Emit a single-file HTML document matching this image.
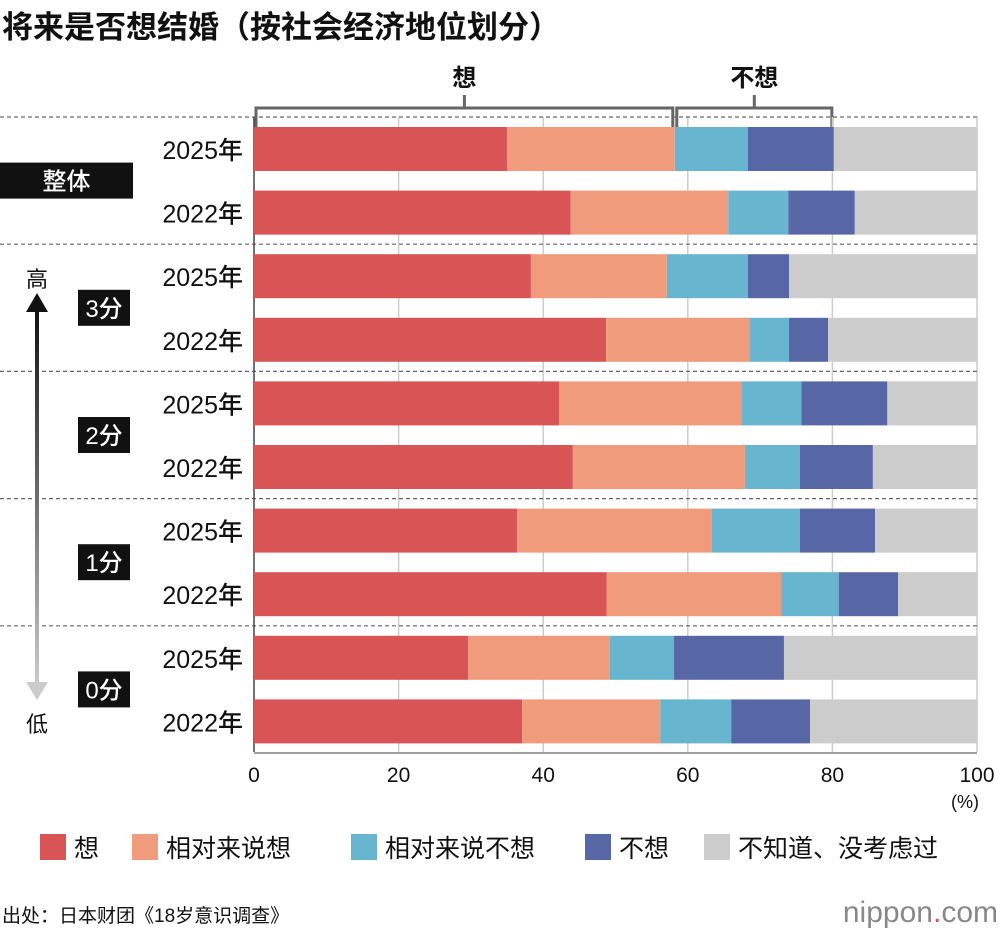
<!DOCTYPE html>
<html><head><meta charset="utf-8"><style>
body{margin:0;background:#fff;font-family:"Liberation Sans","Noto Sans CJK SC",sans-serif;}
svg text{font-family:"Liberation Sans","Noto Sans CJK SC",sans-serif;}
</style></head><body>
<svg id="chart" width="1000" height="936" xmlns="http://www.w3.org/2000/svg">
<text x="2" y="38" font-size="31" font-weight="bold" fill="#111">将来是否想结婚（按社会经济地位划分）</text>
<g id="topg"></g>
<g id="grid"></g>
<g id="bars"></g>
<g id="labels"></g>
<defs><linearGradient id="ag" x1="0" y1="0" x2="0" y2="1"><stop offset="0" stop-color="#111"/><stop offset="1" stop-color="#ccc"/></linearGradient></defs>
<g>
<text x="37" y="287" font-size="22" text-anchor="middle" fill="#111">高</text>
<rect x="35" y="310" width="4" height="375" fill="url(#ag)"/>
<polygon points="26,312 48,312 37,293" fill="#111"/>
<polygon points="26,682 48,682 37,700" fill="#ccc"/>
<text x="37" y="732" font-size="22" text-anchor="middle" fill="#111">低</text>
</g>
<text x="965" y="808" font-size="18" text-anchor="middle" fill="#111">(%)</text>
<g id="legend"></g>
<text x="2" y="922" font-size="19" fill="#111">出处：日本财团《18岁意识调查》</text>
<text x="998" y="922" font-size="30" text-anchor="end" fill="#888">nippon<tspan fill="#d9534f">.</tspan>com</text>
</svg>
<script>
const rowYears=["2025年","2022年","2025年","2022年","2025年","2022年","2025年","2022年","2025年","2022年"];
const groups=["整体","3分","2分","1分","0分"];
const seriesNames=["想","相对来说想","相对来说不想","不想","不知道、没考虑过"];
const want=[35.0,43.8,38.3,48.7,42.2,44.1,36.4,48.8,29.6,37.1];
const ratherWant=[23.2,21.8,18.8,19.8,25.2,23.8,26.9,24.1,19.6,19.1];
const ratherNot=[10.1,8.3,11.2,5.5,8.3,7.6,12.2,8.0,8.9,9.8];
const notWant=[11.9,9.2,5.7,5.4,11.9,10.1,10.4,8.2,15.2,10.9];
const unknown=[19.8,16.9,26.0,20.6,12.4,14.4,14.1,10.9,26.7,23.1];
const xTicks=[0,20,40,60,80,100];
const colors=["#d95455","#f09b7b","#67b5cf","#5767a6","#cccccc"];
const NS="http://www.w3.org/2000/svg";
const X0=254,X1=977;
const x=v=>X0+(X1-X0)*v/100;
const rowY=i=>127+i*63.6;
const BH=44;
function mk(t,a,p){const e=document.createElementNS(NS,t);for(const k in a)e.setAttribute(k,a[k]);p.appendChild(e);return e;}
const grid=document.getElementById('grid'),bars=document.getElementById('bars'),labels=document.getElementById('labels');
xTicks.forEach(t=>{
 if(t>0){const l=mk('line',{x1:x(t),x2:x(t),y1:117,y2:752,stroke:'#ccc','stroke-width':1.5},grid);
 
 }
 const tx=mk('text',{x:x(t),y:782,'font-size':21,'text-anchor':'middle',fill:'#111'},grid);tx.textContent=t;
 
 
});
for(let g=0;g<=5;g++){const y=117+g*127.2;const l=mk('line',{x1:g==5?254:0,x2:977,y1:y,y2:y,stroke:'#666','stroke-width':1.2,'stroke-dasharray':g==5?'none':'4,3'},grid);
 
 }
const ax=mk('line',{x1:X0,x2:X0,y1:117,y2:752,stroke:'#444','stroke-width':1.5},grid);


const series=[want,ratherWant,ratherNot,notWant,unknown];
rowYears.forEach((yr,i)=>{
 let acc=0;
 series.forEach((s,k)=>{
  const r=mk('rect',{x:x(acc),y:rowY(i),width:x(acc+s[i])-x(acc),height:BH,fill:colors[k]},bars);
  
  
  acc+=s[i];
 });
 const t=mk('text',{x:243,y:rowY(i)+32,'font-size':25,'font-weight':500,'text-anchor':'end',fill:'#111'},labels);t.textContent=yr;
 
 
});
groups.forEach((g,j)=>{
 const cy=117+j*127.2+63.6;
 const w=j==0?133:52,x0=j==0?0:78;
 const b=mk('rect',{x:x0,y:cy-18,width:w,height:36,fill:'#111'},labels);
 
 
 const t=mk('text',{x:x0+w/2,y:cy+9,'font-size':24,'font-weight':500,'text-anchor':'middle',fill:'#fff'},labels);t.textContent=g;
 
 
});
const topG=document.getElementById('topg');
const wantEnd=want[0]+ratherWant[0],notEnd=wantEnd+ratherNot[0]+notWant[0];
[[0,wantEnd,'想'],[wantEnd,notEnd,'不想']].forEach(([a,b,lab],k)=>{
 const p=mk('path',{d:`M${x(a)+2},127 V108 H${x(b)-2} V127`,fill:'none',stroke:'#666','stroke-width':3},topG);
 
 
 const m=(x(a)+x(b))/2;
 const l=mk('line',{x1:m,x2:m,y1:95,y2:108,stroke:'#666','stroke-width':3},topG);
 
 
 const t=mk('text',{x:m,y:86,'font-size':24,'font-weight':'bold','text-anchor':'middle',fill:'#111'},topG);t.textContent=lab;
 
 
});
const leg=document.getElementById('legend');
const lx=[40,132,351,585,704];
seriesNames.forEach((n,k)=>{
 const r=mk('rect',{x:lx[k],y:834,width:26,height:26,fill:colors[k]},leg);
 
 
 const t=mk('text',{x:lx[k]+34,y:857,'font-size':25,fill:'#111'},leg);t.textContent=n;
 
 
});
</script>
</body></html>
